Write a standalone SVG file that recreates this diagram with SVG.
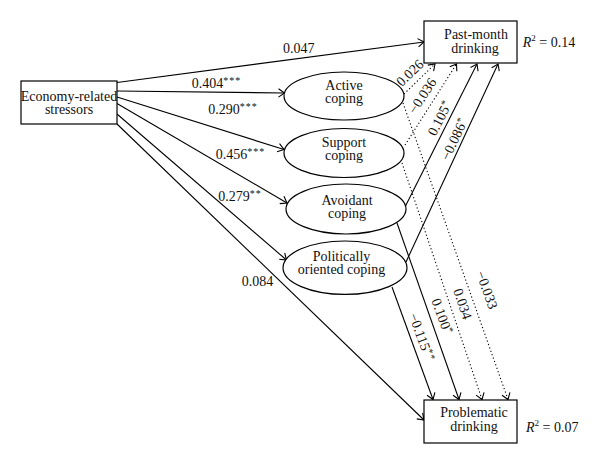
<svg xmlns="http://www.w3.org/2000/svg" width="600" height="464" viewBox="0 0 600 464">
<style>
text{font-family:"Liberation Serif","Times New Roman",serif;font-size:14px;fill:#111}
.c{text-anchor:middle}
.box{fill:#fff;stroke:#000;stroke-width:1.2}
.ell{fill:#fff;stroke:#000;stroke-width:1.2}
.ln{fill:none;stroke:#000;stroke-width:1.1;marker-end:url(#ah)}
.dt{stroke-dasharray:1.2 2.4}
.sup{font-size:10px;letter-spacing:1px}
</style>
<defs>
<marker id="ah" viewBox="-7 -5 8 10" markerWidth="8" markerHeight="10" refX="0" refY="0" orient="auto" markerUnits="userSpaceOnUse"><path d="M-6,-4.2 L0,0 L-6,4.2" fill="none" stroke="#000" stroke-width="1.1" stroke-dasharray="none"/></marker>
</defs>
<rect width="600" height="464" fill="#fff"/>
<g id="connectors">
<path class="ln" d="M117,82.5 L424,42"/>
<path class="ln" d="M117,91 L284.5,93"/>
<path class="ln" d="M117,97 L284,149.5"/>
<path class="ln" d="M117,103.5 L287,203"/>
<path class="ln" d="M117,114 L286.5,260"/>
<path class="ln" d="M117,124 L424,420"/>
<path class="ln dt" d="M404,94 L435,64"/>
<path class="ln dt" d="M405,145 L456.5,64"/>
<path class="ln" d="M405,207 L477,64"/>
<path class="ln" d="M406,262 L498,64"/>
<path class="ln" d="M392,287 L433,399.5"/>
<path class="ln" d="M397,223 L459,399.5"/>
<path class="ln dt" d="M402,163 L482,399.5"/>
<path class="ln dt" d="M403,103 L508,399.5"/>
<text class="c" x="298.7" y="53">0.047</text>
<text x="191.7" y="88.3">0.404<tspan class="sup" dy="-4">***</tspan></text>
<text x="208.3" y="114.3">0.290<tspan class="sup" dy="-4">***</tspan></text>
<text x="215.7" y="159.3">0.456<tspan class="sup" dy="-4">***</tspan></text>
<text x="218.3" y="200.7">0.279<tspan class="sup" dy="-4">**</tspan></text>
<text x="241.7" y="286">0.084</text>
<text class="c" transform="translate(410,73) rotate(-44)" y="4.5">0.026</text>
<text class="c" transform="translate(422.5,96) rotate(-57)" y="4.5">−0.036</text>
<text class="c" transform="translate(440,118) rotate(-63)" y="4.5">0.105<tspan class="sup" dy="-4">*</tspan></text>
<text class="c" transform="translate(454.5,139) rotate(-65)" y="4.5">−0.086<tspan class="sup" dy="-4">*</tspan></text>
<text class="c" transform="translate(421.5,337.5) rotate(70)" y="4.5">−0.115<tspan class="sup" dy="-4">**</tspan></text>
<text class="c" transform="translate(442,316.7) rotate(70)" y="4.5">0.100<tspan class="sup" dy="-4">*</tspan></text>
<text class="c" transform="translate(462.5,304) rotate(71)" y="4.5">0.034</text>
<text class="c" transform="translate(486.7,290) rotate(70)" y="4.5">−0.033</text>
</g>
<g id="economy">
<rect class="box" x="21" y="81" width="96" height="43"/>
<text class="c" x="69" y="101">Economy-related</text>
<text class="c" x="69" y="114">stressors</text>
</g>
<g id="pastmonth">
<rect class="box" x="424" y="21" width="93" height="42"/>
<text class="c" x="476" y="39.3">Past-month</text>
<text class="c" x="475" y="53.3">drinking</text>
<text x="522.7" y="46.5"><tspan font-style="italic">R</tspan><tspan font-size="9" dy="-5.5">2</tspan><tspan dy="5.5"> = 0.14</tspan></text>
</g>
<g id="problematic">
<rect class="box" x="424" y="400" width="93" height="43"/>
<text class="c" x="474" y="417.3">Problematic</text>
<text class="c" x="474" y="431">drinking</text>
<text x="526" y="431.5"><tspan font-style="italic">R</tspan><tspan font-size="9" dy="-5.5">2</tspan><tspan dy="5.5"> = 0.07</tspan></text>
</g>
<g id="active">
<ellipse class="ell" cx="344" cy="96" rx="60" ry="24"/>
<text class="c" x="344" y="90">Active</text>
<text class="c" x="344" y="103">coping</text>
</g>
<g id="support">
<ellipse class="ell" cx="344" cy="153" rx="60" ry="24.5"/>
<text class="c" x="344" y="146.5">Support</text>
<text class="c" x="344" y="159.5">coping</text>
</g>
<g id="avoidant">
<ellipse class="ell" cx="346" cy="209" rx="60" ry="25"/>
<text class="c" x="347" y="205">Avoidant</text>
<text class="c" x="347" y="218">coping</text>
</g>
<g id="political">
<ellipse class="ell" cx="345" cy="267.7" rx="62" ry="26.7"/>
<text class="c" x="341.5" y="260.5">Politically</text>
<text class="c" x="341.5" y="273.5">oriented coping</text>
</g>
</svg>
